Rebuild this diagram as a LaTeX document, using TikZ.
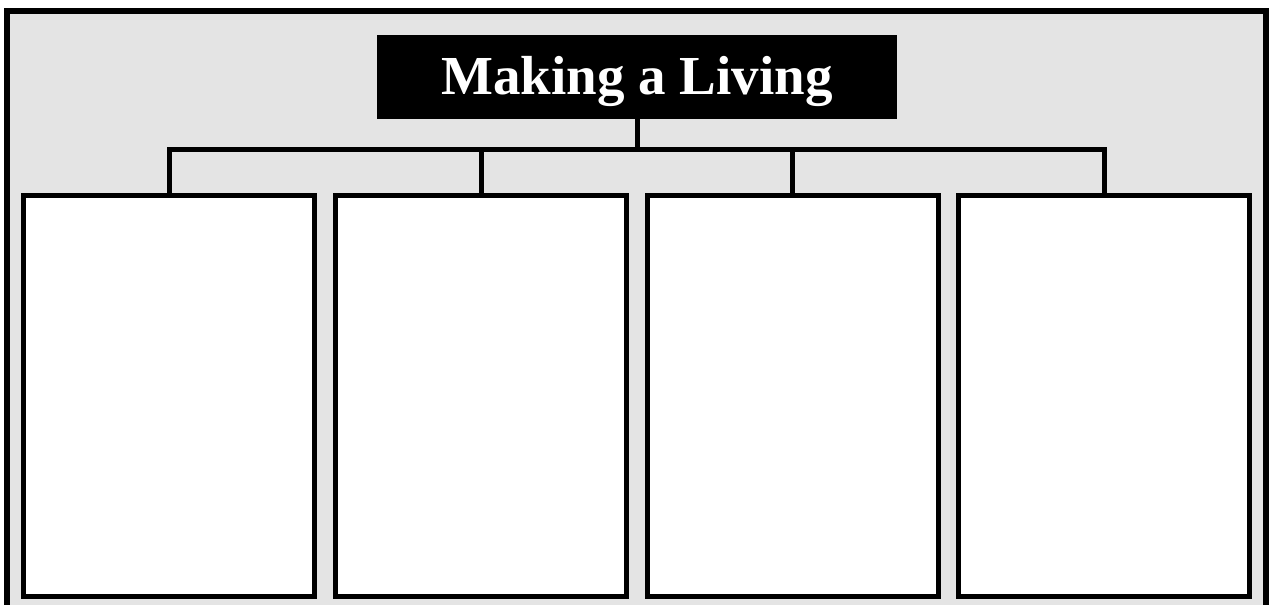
\documentclass[tikz,border=0pt]{standalone}
\usepackage{fontspec}
\setmainfont{Liberation Serif}
\definecolor{panel}{RGB}{228,228,228}
\begin{document}
\begin{tikzpicture}[x=1pt,y=-1pt,
  framebox/.style={draw=black,line width=6pt,fill=panel},
  titlebox/.style={fill=black,draw=none,text=white,minimum width=520pt,minimum height=84pt,inner sep=0pt,outer sep=0pt,
     font=\fontsize{55}{60}\selectfont\bfseries,text height=36pt,text depth=2pt},
  itembox/.style={draw=black,fill=white,line width=5pt,minimum width=291pt,minimum height=401pt,inner sep=0pt,outer sep=0pt},
  link/.style={draw=black,line width=5pt}]
\useasboundingbox (0,0) rectangle (1269,605);
\fill[white] (0,0) rectangle (1269,605);
\draw[framebox] (7,10.5) rectangle (1266,640);
\node[titlebox] (title) at (637,77) {Making a Living};
\node[itembox] (b1) at (169,396) {};
\node[itembox] (b2) at (481,396) {};
\node[itembox] (b3) at (792.5,396) {};
\node[itembox] (b4) at (1104,396) {};
\coordinate (bus) at (637,149.5);
\draw[link,line cap=rect] (b1.north) -- (b1.north |- bus) -- (b4.north |- bus) -- (b4.north);
\draw[link] (b2.north) -- (b2.north |- bus);
\draw[link] (b3.north) -- (b3.north |- bus);
\draw[link] (title.south) -- (title.south |- bus);
\end{tikzpicture}
\end{document}
